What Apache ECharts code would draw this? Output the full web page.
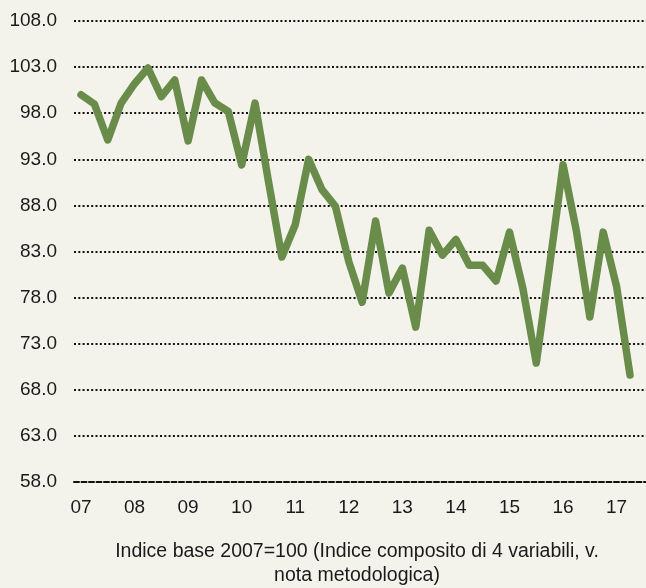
<!DOCTYPE html>
<html>
<head>
<meta charset="utf-8">
<style>
  html, body { margin: 0; padding: 0; background: #F4F3EB; }
  #chart { width: 646px; height: 588px; }
</style>
<script src="https://cdn.jsdelivr.net/npm/echarts@6/dist/echarts.min.js"></script>
</head>
<body>
<div id="chart"></div>
<script>
// Quarterly composite index (2007 = 100), 2007 Q1 to 2017 Q2
const years = ['07', '08', '09', '10', '11', '12', '13', '14', '15', '16', '17'];
const quarters = ['T1', 'T2', 'T3', 'T4'];
const indexValues = [
  100.0, 99.0, 95.1, 99.1,
  101.2, 102.9, 99.8, 101.6,
  95.0, 101.6, 99.1, 98.2,
  92.4, 99.1, 90.6, 82.4,
  85.9, 93.0, 89.7, 87.9,
  81.9, 77.5, 86.3, 78.5,
  81.2, 74.8, 85.3, 82.6,
  84.3, 81.5, 81.5, 79.8,
  85.1, 79.0, 70.9, 81.5,
  92.4, 85.2, 75.9, 85.1,
  79.2, 69.6
];
const yMin = 58, yMax = 108, yStep = 5;
const caption = 'Indice base 2007=100 (Indice composito di 4 variabili, v.\nnota metodologica)';

// one category per quarter, labelled by year at each first quarter
const categories = [];
years.forEach(y => quarters.forEach(q => categories.push(y + ' ' + q)));
categories.length = indexValues.length;

const FONT = '"Liberation Sans", Arial, sans-serif';
const TEXT = '#1a1a1a';

const chart = echarts.init(document.getElementById('chart'), null, { renderer: 'canvas' });
chart.setOption({
  backgroundColor: '#F4F3EB',
  animation: false,
  textStyle: { fontFamily: FONT },
  grid: [
    // background grid carrying the horizontal reference lines
    { left: 74, right: 0, top: 21, bottom: 106 },
    // plotting grid for the series, aligned with the year labels
    { left: 81, right: 16, top: 21, bottom: 106 }
  ],
  xAxis: [
    {
      gridIndex: 0, type: 'value', min: 0, max: 1,
      axisLabel: { show: false }, axisTick: { show: false }, splitLine: { show: false },
      axisLine: { show: true, lineStyle: { color: '#111', width: 2, type: [5, 2.5] } }
    },
    {
      gridIndex: 1, type: 'category', data: categories, boundaryGap: false,
      axisLine: { show: false }, axisTick: { show: false },
      axisLabel: {
        interval: (i) => i % 4 === 0,
        formatter: (v) => v.split(' ')[0],
        color: TEXT, fontFamily: FONT, fontSize: 19, margin: 16
      }
    }
  ],
  yAxis: [
    {
      gridIndex: 0, type: 'value', min: yMin, max: yMax, interval: yStep,
      axisLine: { show: false }, axisTick: { show: false },
      axisLabel: {
        formatter: (v) => v.toFixed(1),
        color: TEXT, fontFamily: FONT, fontSize: 19, margin: 17
      },
      splitLine: {
        show: true, showMinLine: false,
        lineStyle: { color: '#111', width: 2, type: [2, 2.3] }
      }
    },
    {
      gridIndex: 1, type: 'value', min: yMin, max: yMax, interval: yStep,
      show: false, splitLine: { show: false }
    }
  ],
  series: [
    {
      type: 'line',
      xAxisIndex: 1, yAxisIndex: 1,
      data: indexValues,
      symbol: 'none',
      lineStyle: { color: '#6A8C4B', width: 7.5, cap: 'round', join: 'round' },
      z: 5
    }
  ],
  graphic: [
    {
      type: 'text',
      x: 357,
      y: 540,
      style: {
        text: caption,
        textAlign: 'center',
        fill: TEXT,
        font: '19.5px ' + FONT,
        lineHeight: 24
      }
    }
  ]
});
</script>
</body>
</html>
